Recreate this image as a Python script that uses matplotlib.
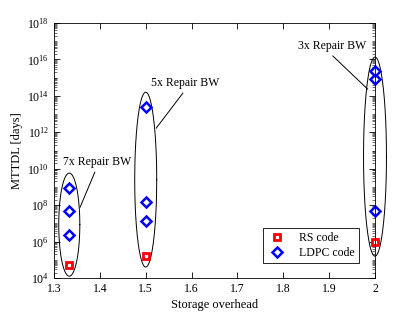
import numpy as np
import matplotlib.pyplot as plt
from matplotlib.ticker import LogLocator, FixedLocator, NullFormatter

plt.rcParams['font.family'] = ['Liberation Serif', 'DejaVu Serif']
plt.rcParams['mathtext.fontset'] = 'stix'

# data
overhead = [4 / 3, 1.5, 2.0]
rs_mttdl = [5e4, 1.6e5, 9e5]
ldpc_x = [4 / 3, 4 / 3, 4 / 3, 1.5, 1.5, 1.5, 2.0, 2.0, 2.0]
ldpc_mttdl = [2.2e6, 4.6e7, 9e8, 1.4e7, 1.4e8, 2.5e13, 5e7, 8e14, 2.4e15]

# groups: label, text position, line start (near text), line end (on ellipse)
groups = ['7x Repair BW', '5x Repair BW', '3x Repair BW']
ell_lo = [4.1, 4.6, 5.2]      # log10 bottom of ellipse
ell_hi = [9.76, 14.2, 16.13]  # log10 top of ellipse
ell_w = [0.023, 0.024, 0.025]
text_pos = [(1.394, 10 ** 10.36), (1.587, 10 ** 14.7), (1.906, 10 ** 16.74)]
line_a = [(1.389, 10 ** 9.81), (1.581, 10 ** 14.15), (1.908, 10 ** 16.19)]
line_b = [(1.357, 10 ** 7.89), (1.523, 10 ** 12.23), (1.984, 10 ** 14.37)]

fig = plt.figure(figsize=(4.15, 3.12), dpi=100)
ax = fig.add_axes([54 / 415, 1 - 278 / 312, 321 / 415, 255 / 312])

ax.set_yscale('log')
ax.set_xlim(1.3, 2.0)
ax.set_ylim(1e4, 1e18)

# ellipses in log space
t = np.linspace(0, 2 * np.pi, 200)
for cx, lo, hi, w in zip(overhead, ell_lo, ell_hi, ell_w):
    c = (lo + hi) / 2
    h = (hi - lo) / 2
    ax.plot(cx + w * np.cos(t), 10 ** (c + h * np.sin(t)), color='black', lw=0.7, clip_on=False)

for name, tp, a, b in zip(groups, text_pos, line_a, line_b):
    ax.text(tp[0], tp[1], name, ha='center', va='center', fontsize=8.5)
    ax.plot([a[0], b[0]], [a[1], b[1]], color='black', lw=0.7)

ax.plot(overhead, rs_mttdl, 's', ms=5, mfc='white', mec='red', mew=2, label='RS code', linestyle='none',
        clip_on=False)
ax.plot(ldpc_x, ldpc_mttdl, 'D', ms=5.5, mfc='white', mec='blue', mew=1.8, label='LDPC code', linestyle='none',
        clip_on=False)

ax.set_xticks([1.3, 1.4, 1.5, 1.6, 1.7, 1.8, 1.9, 2.0])
ax.set_xticklabels(['1.3', '1.4', '1.5', '1.6', '1.7', '1.8', '1.9', '2'])
ax.yaxis.set_major_locator(FixedLocator([10.0 ** k for k in range(4, 19, 2)]))
ax.yaxis.set_minor_locator(LogLocator(base=10, subs=np.arange(1, 10), numticks=50))
ax.yaxis.set_minor_formatter(NullFormatter())
ax.tick_params(which='both', direction='in', top=True, right=True, labelsize=8.5)
ax.tick_params(which='major', length=4, width=0.6)
ax.tick_params(which='minor', length=2, width=0.4)
for s in ax.spines.values():
    s.set_linewidth(0.6)

ax.set_xlabel('Storage overhead', fontsize=9, labelpad=3)
ax.set_ylabel('MTTDL [days]', fontsize=9, labelpad=3)

leg = ax.legend(loc='lower right', bbox_to_anchor=(0.967, 0.035), fontsize=8.5, fancybox=False,
                edgecolor='black', framealpha=1, borderpad=0.35, handletextpad=0.9, labelspacing=0.25,
                handlelength=1.8)
leg.get_frame().set_linewidth(0.6)

fig.savefig('out.png', dpi=100)
